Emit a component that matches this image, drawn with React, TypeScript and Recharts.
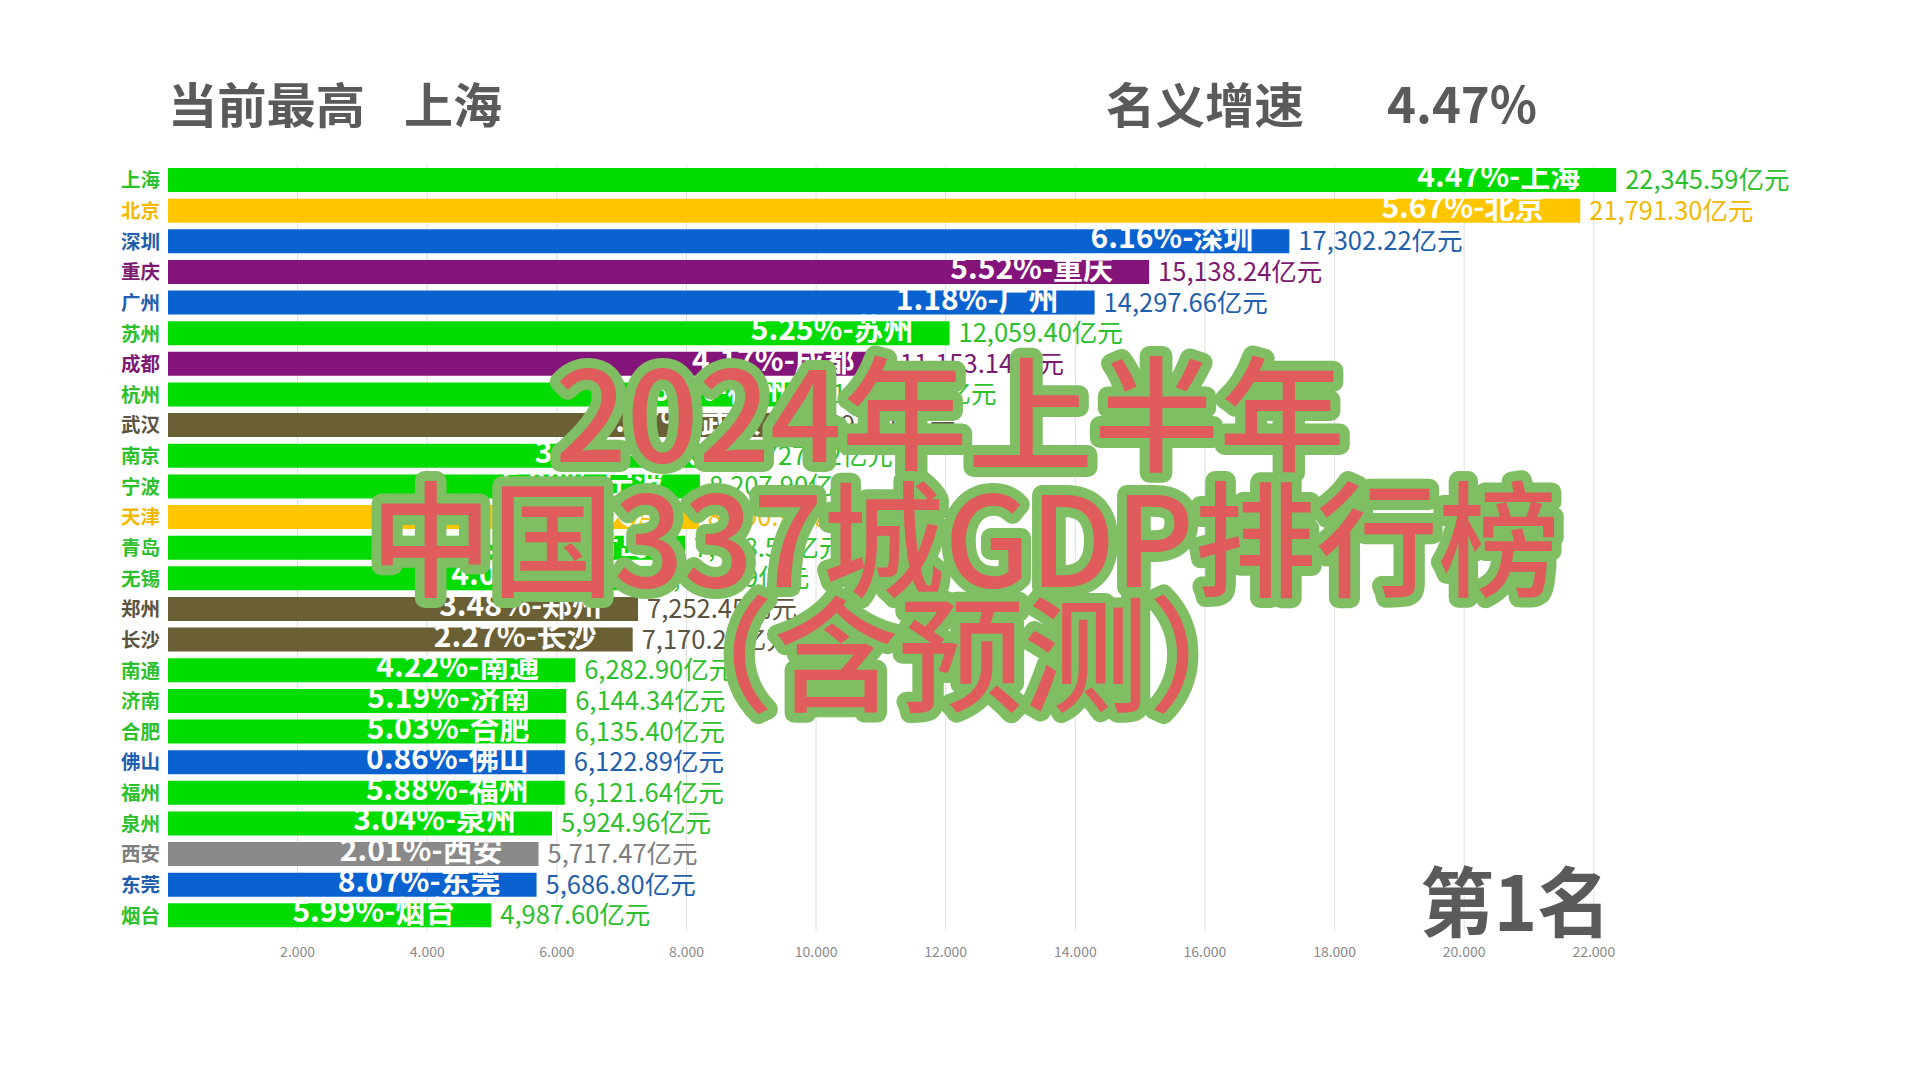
import React from 'react';
import { BarChart, Bar, XAxis, YAxis, CartesianGrid, Cell, LabelList } from 'recharts';

const cities = ['上海', '北京', '深圳', '重庆', '广州', '苏州', '成都', '杭州', '武汉', '南京', '宁波', '天津', '青岛', '无锡', '郑州', '长沙', '南通', '济南', '合肥', '佛山', '福州', '泉州', '西安', '东莞', '烟台'];
const gdp = [22345.59, 21791.3, 17302.22, 15138.24, 14297.66, 12059.4, 11153.14, 10110.27, 9697.36, 8727.42, 8207.9, 8190.91, 7978.56, 7439.39, 7252.45, 7170.25, 6282.9, 6144.34, 6135.4, 6122.89, 6121.64, 5924.96, 5717.47, 5686.8, 4987.6];
const growth = ['4.47%', '5.67%', '6.16%', '5.52%', '1.18%', '5.25%', '4.17%', '4.60%', '5.27%', '3.46%', '5.98%', '4.51%', '5.06%', '4.06%', '3.48%', '2.27%', '4.22%', '5.19%', '5.03%', '0.86%', '5.88%', '3.04%', '2.01%', '8.07%', '5.99%'];
const xTicks = [2000, 4000, 6000, 8000, 10000, 12000, 14000, 16000, 18000, 20000, 22000];

// region groups -> colours
const groupOf: Record<string, string> = {
  上海: 'green', 北京: 'yellow', 深圳: 'blue', 重庆: 'purple', 广州: 'blue', 苏州: 'green',
  成都: 'purple', 杭州: 'green', 武汉: 'brown', 南京: 'green', 宁波: 'green', 天津: 'yellow',
  青岛: 'green', 无锡: 'green', 郑州: 'brown', 长沙: 'brown', 南通: 'green', 济南: 'green',
  合肥: 'green', 佛山: 'blue', 福州: 'green', 泉州: 'green', 西安: 'gray', 东莞: 'blue', 烟台: 'green',
};
const barColor: Record<string, string> = {
  green: '#00dc00', yellow: '#ffc600', blue: '#0a62d0', purple: '#85147a', brown: '#6b6035', gray: '#8a8a8a',
};
const textColor: Record<string, string> = {
  green: '#2cc02c', yellow: '#f2b900', blue: '#1f5fae', purple: '#7c1a72', brown: '#5a5340', gray: '#7d7d7d',
};

const FONT = '"Noto Sans CJK SC", "Noto Sans", sans-serif';

const rows = cities.map((name, i) => ({ name, gdp: gdp[i], growth: growth[i] }));

const fmtValue = (v: number) =>
  v.toLocaleString('en-US', { minimumFractionDigits: 2, maximumFractionDigits: 2 }) + '亿元';

function CityTick(props: any) {
  const { x, y, payload } = props;
  const g = groupOf[payload.value];
  return (
    <text x={x} y={y} dy={7} textAnchor="end" fontSize={19.5} fontWeight={700} fontFamily={FONT} fill={textColor[g]}>
      {payload.value}
    </text>
  );
}

function BarLabels(props: any) {
  const { x, y, width, height, index } = props;
  const row = rows[index];
  if (!row) return null;
  const g = groupOf[row.name];
  const end = Number(x) + Number(width);
  const cy = Number(y) + Number(height) / 2;
  return (
    <g>
      <text x={end - 36} y={cy + 7} textAnchor="end" fontSize={30} fontWeight={700} fontFamily={FONT} fill="#ffffff">
        {row.growth + '-' + row.name}
      </text>
      <text x={end + 9} y={cy + 9} textAnchor="start" fontSize={25.5} fontFamily={FONT} fill={textColor[g]}>
        {fmtValue(row.gdp)}
      </text>
    </g>
  );
}

export default function App() {
  return (
    <div style={{ position: 'absolute', left: 0, top: 0, width: 1920, height: 1080, background: '#fff', overflow: 'hidden' }}>
      <BarChart
        width={1920}
        height={1080}
        data={rows}
        layout="vertical"
        margin={{ top: 165, right: 229, bottom: 119, left: 88 }}
      >
        <CartesianGrid horizontal={false} verticalValues={xTicks} stroke="#dedede" />
        <XAxis
          type="number"
          domain={[0, 23500]}
          ticks={xTicks}
          axisLine={false}
          tickLine={false}
          tickMargin={10}
          tick={{ fontSize: 14, fill: '#8a8a8a', fontFamily: FONT }}
          tickFormatter={(v: number) => `${v / 1000}.000`}
        />
        <YAxis
          type="category"
          dataKey="name"
          width={80}
          axisLine={false}
          tickLine={false}
          interval={0}
          tick={<CityTick />}
        />
        <Bar dataKey="gdp" barSize={24} isAnimationActive={false}>
          {rows.map((r) => (
            <Cell key={r.name} fill={barColor[groupOf[r.name]]} />
          ))}
          <LabelList dataKey="gdp" content={<BarLabels />} />
        </Bar>
      </BarChart>

      <svg width={1920} height={1080} style={{ position: 'absolute', left: 0, top: 0, pointerEvents: 'none' }}>
        <g fontFamily={FONT} fontWeight={700} fill="#5a5a5a">
          <text x={168} y={123} fontSize={48} textLength={197} lengthAdjust="spacingAndGlyphs">当前最高</text>
          <text x={404} y={123} fontSize={48} textLength={98} lengthAdjust="spacingAndGlyphs">上海</text>
          <text x={1106} y={123} fontSize={48} textLength={198} lengthAdjust="spacingAndGlyphs">名义增速</text>
          <text x={1387} y={123} fontSize={50} textLength={150} lengthAdjust="spacingAndGlyphs">4.47%</text>
          <text x={1420} y={931} fontSize={76} textLength={191} lengthAdjust="spacingAndGlyphs">第1名</text>
        </g>
        <g
          fontFamily={FONT}
          fontWeight={500}
          fontSize={125}
          fill="#e05b5b"
          stroke="#80be64"
          strokeWidth={20}
          strokeLinejoin="round"
          paintOrder="stroke"
          textAnchor="middle"
        >
          <text x={950} y={462} textLength={790} lengthAdjust="spacingAndGlyphs">2024年上半年</text>
          <text x={965} y={587} textLength={1190} lengthAdjust="spacingAndGlyphs">中国337城GDP排行榜</text>
          <text x={961} y={702}>（含预测）</text>
        </g>
      </svg>
    </div>
  );
}
